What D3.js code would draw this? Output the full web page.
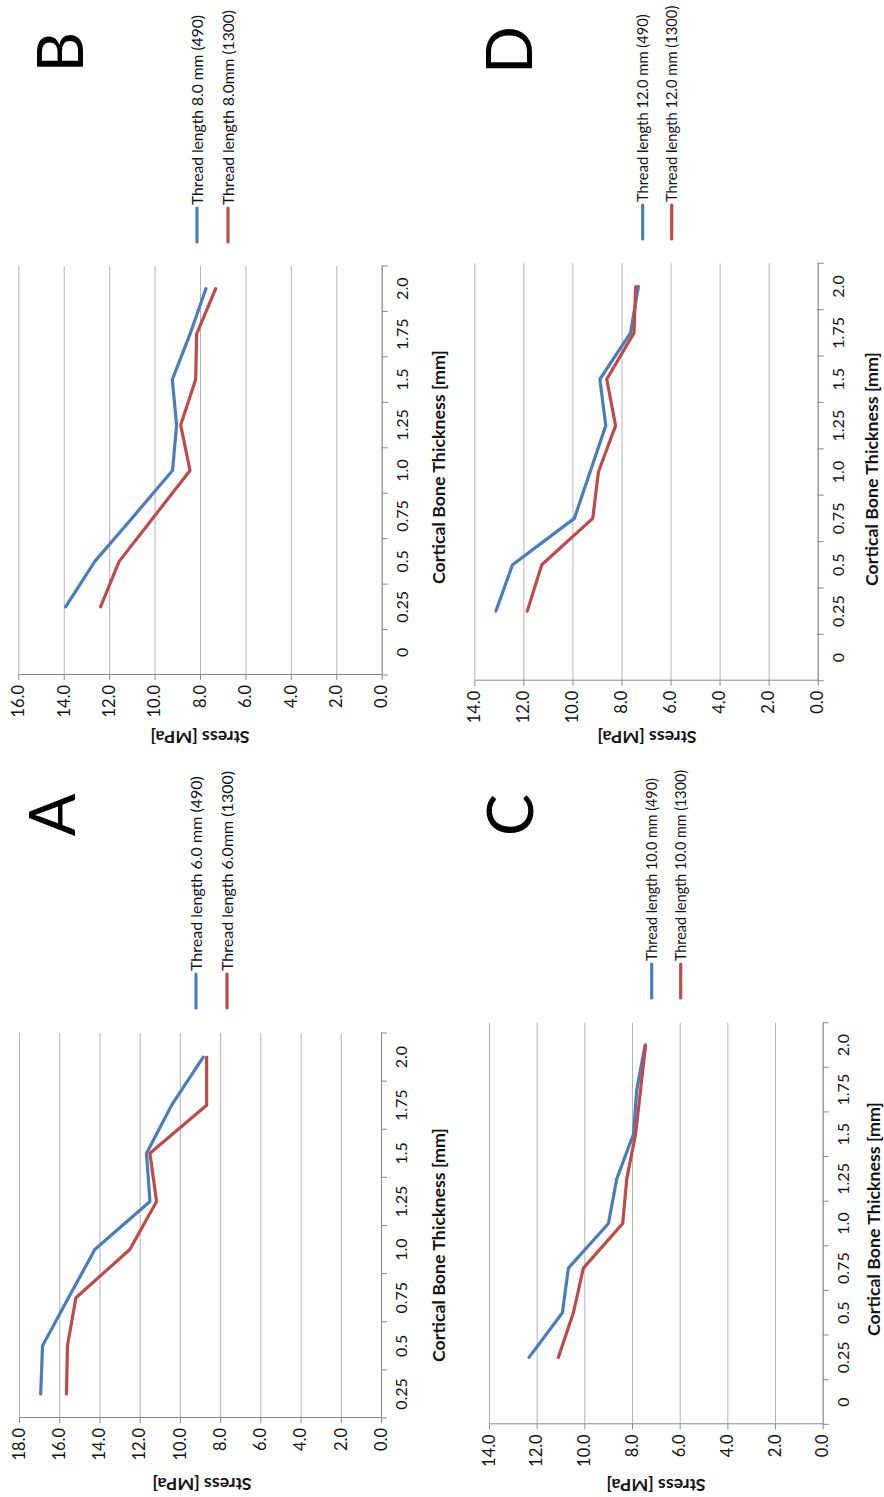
<!DOCTYPE html>
<html>
<head>
<meta charset="utf-8">
<script src="https://cdn.jsdelivr.net/npm/d3@7"></script>
<style>
  html, body { margin: 0; padding: 0; background: #fff; }
  svg { display: block; }
</style>
</head>
<body>
<svg id="fig" width="884" height="1497"></svg>
<script>
// Cortical bone thickness categories (mm)
const thicknessFull = ["0", "0.25", "0.5", "0.75", "1.0", "1.25", "1.5", "1.75", "2.0"];
const thicknessNoZero = ["0.25", "0.5", "0.75", "1.0", "1.25", "1.5", "1.75", "2.0"];
const thicknessMeasured = ["0.25", "0.5", "0.75", "1.0", "1.25", "1.5", "1.75", "2.0"];

// Stress (MPa) per panel, series 490 and 1300
const stressA490  = [16.92, 16.83, 15.54, 14.23, 11.49, 11.66, 10.41, 8.84];
const stressA1300 = [15.64, 15.59, 15.17, 12.49, 11.16, 11.49, 8.67, 8.67];
const stressB490  = [13.92, 12.63, 10.91, 9.21, 9.03, 9.22, 8.44, 7.74];
const stressB1300 = [12.38, 11.56, 10.00, 8.44, 8.85, 8.19, 8.15, 7.31];
const stressC490  = [12.32, 10.92, 10.67, 8.99, 8.64, 7.94, 7.80, 7.45];
const stressC1300 = [11.09, 10.46, 10.04, 8.39, 8.22, 7.85, 7.64, 7.43];
const stressD490  = [13.12, 12.44, 9.92, 9.28, 8.64, 8.88, 7.63, 7.31];
const stressD1300 = [11.84, 11.25, 9.17, 8.94, 8.24, 8.60, 7.49, 7.42];

// Value axis maxima
const stressMaxA = 18, stressMaxB = 16, stressMaxC = 14, stressMaxD = 14;

// Legend entries
const namesA = ["Thread length 6.0 mm (490)", "Thread length 6.0mm (1300)"];
const namesB = ["Thread length 8.0 mm (490)", "Thread length 8.0mm (1300)"];
const namesC = ["Thread length 10.0 mm (490)", "Thread length 10.0 mm (1300)"];
const namesD = ["Thread length 12.0 mm (490)", "Thread length 12.0 mm (1300)"];

const panelLetters = ["A", "B", "C", "D"];
const xTitle = "Cortical Bone Thickness [mm]";
const yTitle = "Stress [MPa]";

// ---- drawing ----
const FONT = "Lato, 'Open Sans', sans-serif";
const SERIES_COLORS = ["#4a7ebb", "#be4b48"];
const GRID = "#b4b4b4", AXIS = "#8a8a8a", INK = "#141414";

const svg = d3.select("#fig");
svg.append("rect").attr("width", 884).attr("height", 1497).attr("fill", "#fff");

// The figure is laid out landscape (1497 x 884) and turned a quarter turn counter-clockwise.
const root = svg.append("g").attr("transform", "translate(0,1497) rotate(-90)");

// legendFit: width the first legend entry's text should occupy
const panels = [
  { letter: panelLetters[0], cats: thicknessNoZero, max: stressMaxA, series: [stressA490, stressA1300], names: namesA,
    box: { left: 79, right: 464, top: 19, bottom: 381 },
    xTitlePos: [252, 445], yTitlePos: [19, 202], legendPos: [489, 196, 31], letterPos: [682, 75], legendFit: 195 },
  { letter: panelLetters[1], cats: thicknessFull, max: stressMaxB, series: [stressB490, stressB1300], names: namesB,
    box: { left: 822, right: 1231, top: 18.3, bottom: 381.7 },
    xTitlePos: [1030, 445], yTitlePos: [766, 200], legendPos: [1255, 197, 31], letterPos: [1445, 83], legendFit: 190 },
  { letter: panelLetters[2], cats: thicknessFull, max: stressMaxC, series: [stressC490, stressC1300], names: namesC,
    box: { left: 72.7, right: 474.3, top: 489, bottom: 822.7 },
    xTitlePos: [278, 880], yTitlePos: [18, 656], legendPos: [499, 651.7, 29], letterPos: [682, 533], legendFit: 183 },
  { letter: panelLetters[3], cats: thicknessFull, max: stressMaxD, series: [stressD490, stressD1300], names: namesD,
    box: { left: 816.3, right: 1233.7, top: 474.3, bottom: 817.7 },
    xTitlePos: [1028, 878], yTitlePos: [766, 647], legendPos: [1258, 642.7, 29], letterPos: [1447, 532], legendFit: 188 }
];

panels.forEach(p => {
  const g = root.append("g");
  const b = p.box;
  const x = d3.scaleBand().domain(p.cats).range([b.left, b.right]).padding(0);
  const y = d3.scaleLinear().domain([0, p.max]).range([b.bottom, b.top]);
  const ticks = d3.range(0, p.max + 0.001, 2);

  // horizontal gridlines
  g.append("g")
    .attr("transform", `translate(${b.left},0)`)
    .call(d3.axisLeft(y).tickValues(ticks).tickSize(-(b.right - b.left)).tickFormat(""))
    .call(s => s.select(".domain").remove())
    .selectAll("line").attr("stroke", GRID).attr("stroke-width", 1);

  // value axis
  const ya = g.append("g")
    .attr("transform", `translate(${b.left},0)`)
    .call(d3.axisLeft(y).tickValues(ticks).tickSize(5).tickSizeOuter(0).tickPadding(5)
      .tickFormat(d3.format(".1f")));
  ya.select(".domain").attr("stroke", AXIS);
  ya.selectAll(".tick line").attr("stroke", AXIS);
  ya.selectAll("text").attr("font-family", FONT).attr("font-size", 16.5).attr("fill", INK);

  // category axis (labels centred on categories, tick marks between them)
  const xa = g.append("g")
    .attr("transform", `translate(0,${b.bottom})`)
    .call(d3.axisBottom(x).tickSize(0).tickSizeOuter(0).tickPadding(15));
  xa.select(".domain").attr("stroke", AXIS);
  xa.selectAll("text").attr("font-family", FONT).attr("font-size", 16).attr("fill", INK);
  const edges = p.cats.map(c => x(c)).concat([x.range()[1]]);
  xa.selectAll("line.edge").data(edges).join("line")
    .attr("class", "edge")
    .attr("x1", d => d).attr("x2", d => d)
    .attr("y1", 0).attr("y2", 6)
    .attr("stroke", AXIS);

  // series lines
  const line = d3.line()
    .x((v, i) => x(thicknessMeasured[i]) + x.bandwidth() / 2)
    .y(v => y(v));
  p.series.forEach((vals, k) => {
    g.append("path")
      .datum(vals)
      .attr("d", line)
      .attr("fill", "none")
      .attr("stroke", SERIES_COLORS[k])
      .attr("stroke-width", 3.2)
      .attr("stroke-linejoin", "round")
      .attr("stroke-linecap", "round");
  });

  // axis titles
  g.append("text")
    .attr("x", p.xTitlePos[0]).attr("y", p.xTitlePos[1])
    .attr("text-anchor", "middle")
    .attr("font-family", FONT).attr("font-weight", "bold").attr("font-size", 17.8)
    .attr("fill", INK)
    .text(xTitle);
  g.append("text")
    .attr("transform", `translate(${p.yTitlePos[0]},${p.yTitlePos[1]}) rotate(-90)`)
    .attr("text-anchor", "middle")
    .attr("font-family", FONT).attr("font-weight", "bold").attr("font-size", 17.8)
    .attr("fill", INK)
    .text(yTitle);

  // legend: size the labels so the first entry spans legendFit
  const [lx, ly, lgap] = p.legendPos;
  const labels = p.names.map((name, k) => {
    const yy = ly + k * lgap;
    g.append("line")
      .attr("x1", lx).attr("x2", lx + 34).attr("y1", yy).attr("y2", yy)
      .attr("stroke", SERIES_COLORS[k]).attr("stroke-width", 3.2).attr("stroke-linecap", "round");
    return g.append("text")
      .attr("x", lx + 37).attr("y", yy + 5.5)
      .attr("font-family", FONT).attr("font-size", 16).attr("fill", INK)
      .text(name);
  });
  const w0 = labels[0].node().getComputedTextLength();
  const fs = w0 > 0 ? 16 * p.legendFit / w0 : 15.5;
  labels.forEach(t => t.attr("font-size", fs));

  // panel letter
  g.append("text")
    .attr("x", p.letterPos[0]).attr("y", p.letterPos[1])
    .attr("text-anchor", "middle")
    .attr("font-family", FONT).attr("font-size", 63).attr("fill", "#000")
    .text(p.letter);
});
</script>
</body>
</html>
